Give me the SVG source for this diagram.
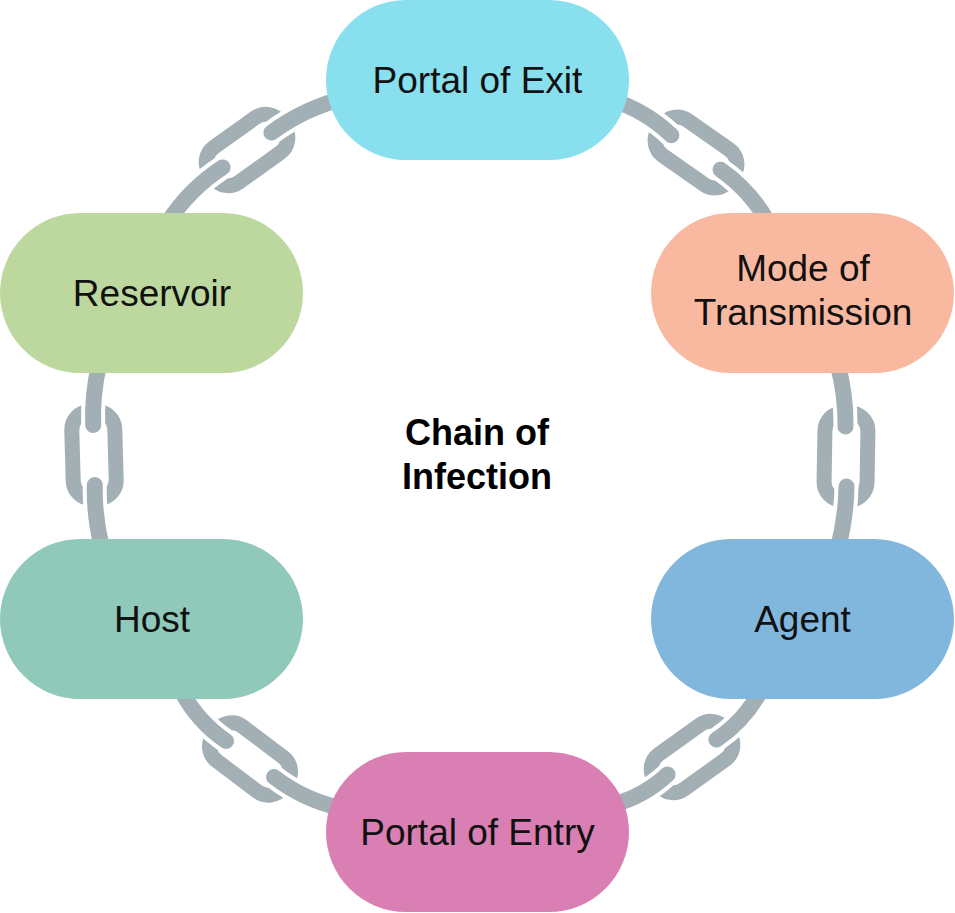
<svg xmlns="http://www.w3.org/2000/svg" width="955" height="913" viewBox="0 0 955 913">
<style>
.link{fill:none;stroke:#a2afb5;stroke-width:15}
.gap{fill:none;stroke:#ffffff;stroke-width:24;stroke-linecap:round}
.rod{fill:none;stroke:#a2afb5;stroke-width:16;stroke-linecap:round}
.lbl{font-family:"Liberation Sans",Arial,sans-serif;font-size:37px;fill:#111;text-anchor:middle}
.title{font-family:"Liberation Sans",Arial,sans-serif;font-size:36px;font-weight:bold;fill:#000;text-anchor:middle}
</style>
<defs>
<rect id="ring" x="-43.5" y="-21.5" width="87" height="43" rx="18"/>
</defs>
<rect width="955" height="913" fill="#ffffff"/>
<g id="connectors">
  <use href="#ring" class="link" transform="translate(247,150) rotate(-35.5)"/>
  <use href="#ring" class="link" transform="translate(696,152.5) rotate(35)"/>
  <use href="#ring" class="link" transform="translate(94,455) rotate(88.4)"/>
  <use href="#ring" class="link" transform="translate(846,456.5) rotate(91)"/>
  <use href="#ring" class="link" transform="translate(250,759) rotate(37)"/>
  <use href="#ring" class="link" transform="translate(692,757) rotate(-35.5)"/>
  <path class="gap" d="M168,222 Q189.6,189 222.6,167.4"/>
  <path class="rod" d="M168,222 Q189.6,189 222.6,167.4"/>
  <path class="gap" d="M271.4,132.6 Q304.8,108.1 345,98"/>
  <path class="rod" d="M271.4,132.6 Q304.8,108.1 345,98"/>
  <path class="gap" d="M612,100 Q645.8,110.8 671.4,135.3"/>
  <path class="rod" d="M612,100 Q645.8,110.8 671.4,135.3"/>
  <path class="gap" d="M720.6,169.7 Q750.2,190.5 768,222"/>
  <path class="rod" d="M720.6,169.7 Q750.2,190.5 768,222"/>
  <path class="gap" d="M99,365 Q92,395 93.2,425"/>
  <path class="rod" d="M99,365 Q92,395 93.2,425"/>
  <path class="gap" d="M94.8,485 Q94,516 102,548"/>
  <path class="rod" d="M94.8,485 Q94,516 102,548"/>
  <path class="gap" d="M837,362 Q846,394 845.5,426.5"/>
  <path class="rod" d="M837,362 Q846,394 845.5,426.5"/>
  <path class="gap" d="M846.5,486.5 Q846,519 837,552"/>
  <path class="rod" d="M846.5,486.5 Q846,519 837,552"/>
  <path class="gap" d="M182,692 Q198,721.8 226,741"/>
  <path class="rod" d="M182,692 Q198,721.8 226,741"/>
  <path class="gap" d="M274,777 Q303.6,799.7 340,808"/>
  <path class="rod" d="M274,777 Q303.6,799.7 340,808"/>
  <path class="gap" d="M760,692 Q744,721 716.4,739.6"/>
  <path class="rod" d="M760,692 Q744,721 716.4,739.6"/>
  <path class="gap" d="M667.6,774.4 Q643.7,796.7 612,805"/>
  <path class="rod" d="M667.6,774.4 Q643.7,796.7 612,805"/>
</g>
<g id="portal-of-exit">
  <rect x="326" y="0" width="303" height="160" rx="80" fill="#88dfed"/>
  <text class="lbl" x="477.5" y="93">Portal of Exit</text>
</g>
<g id="mode-of-transmission">
  <rect x="651" y="213" width="303" height="160" rx="80" fill="#f9b9a0"/>
  <text class="lbl" x="803" y="281">Mode of</text>
  <text class="lbl" x="803" y="325">Transmission</text>
</g>
<g id="agent">
  <rect x="651" y="539" width="303" height="160" rx="80" fill="#82b7dd"/>
  <text class="lbl" x="802.5" y="632">Agent</text>
</g>
<g id="portal-of-entry">
  <rect x="326" y="752" width="303" height="160" rx="80" fill="#d97fb3"/>
  <text class="lbl" x="477.5" y="845">Portal of Entry</text>
</g>
<g id="host">
  <rect x="0" y="539" width="303" height="160" rx="80" fill="#90c9b9"/>
  <text class="lbl" x="152" y="632">Host</text>
</g>
<g id="reservoir">
  <rect x="0" y="213" width="303" height="160" rx="80" fill="#bcd89f"/>
  <text class="lbl" x="152" y="306">Reservoir</text>
</g>
<g id="center-title">
  <text class="title" x="477" y="445">Chain of</text>
  <text class="title" x="477" y="489">Infection</text>
</g>
</svg>
